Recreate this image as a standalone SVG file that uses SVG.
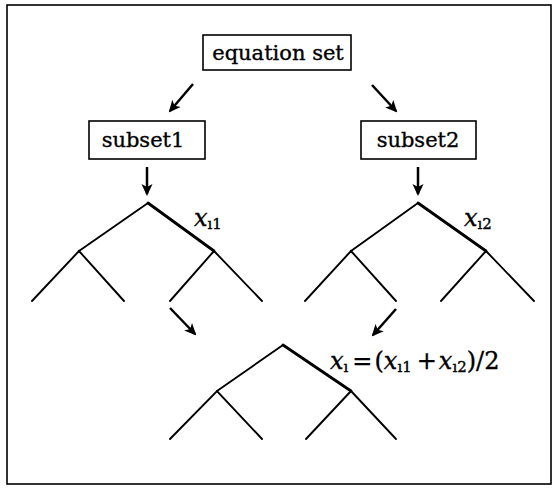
<svg xmlns="http://www.w3.org/2000/svg" width="555" height="489" viewBox="0 0 555 489">
<defs>
<marker id="ah" markerWidth="12" markerHeight="12" refX="10" refY="6" orient="auto" markerUnits="userSpaceOnUse" viewBox="0 0 12 12">
<path d="M0,0.5 L12,6 L0,11.5 L3,6 Z" fill="#000"/>
</marker>
</defs>
<style>
.box{fill:#fff;stroke:#000;stroke-width:1.6}
.lbl{font-family:'DejaVu Serif',serif;font-size:21px;fill:#000;stroke:#000;stroke-width:0.35}
.math{font-family:'DejaVu Serif',serif;font-size:24px;fill:#000;stroke:#000;stroke-width:0.35}
.it{font-style:italic}
.sub{font-size:15px}
.tree{fill:none;stroke:#000;stroke-width:1.9;stroke-linecap:round}
.bold{stroke-width:2.8}
.arr{stroke:#000;stroke-width:2.5;fill:none;marker-end:url(#ah)}
</style>
<rect x="0" y="0" width="555" height="489" fill="#fff"/>
<rect x="7" y="5" width="544" height="479" fill="none" stroke="#000" stroke-width="1.6"/>

<g id="equation-set">
<rect class="box" x="203" y="35" width="148" height="35"/>
<text class="lbl" x="278" y="60" text-anchor="middle">equation set</text>
</g>
<g id="subset1">
<rect class="box" x="89" y="121" width="116" height="38"/>
<text class="lbl" x="143" y="147" text-anchor="middle">subset1</text>
</g>
<g id="subset2">
<rect class="box" x="361" y="121" width="115" height="38"/>
<text class="lbl" x="418" y="147" text-anchor="middle">subset2</text>
</g>

<g id="tree1">
<polyline class="tree" points="79,251 148,203"/>
<polyline class="tree bold" points="148,203 214,251"/>
<polyline class="tree" points="32,301 79,251 124,301"/>
<polyline class="tree" points="170,301 214,251 262,301"/>
<text class="math" x="194" y="226"><tspan class="it">x</tspan><tspan class="sub" dy="3">ı1</tspan></text>
</g>
<g id="tree2">
<polyline class="tree" points="351,251 418,203"/>
<polyline class="tree bold" points="418,203 486,251"/>
<polyline class="tree" points="305,301 351,251 396,301"/>
<polyline class="tree" points="441,301 486,251 534,301"/>
<text class="math" x="464" y="226"><tspan class="it">x</tspan><tspan class="sub" dy="3">ı2</tspan></text>
</g>
<g id="tree3">
<polyline class="tree" points="217,391 283,345"/>
<polyline class="tree bold" points="283,345 351,391"/>
<polyline class="tree" points="170,439 217,391 262,439"/>
<polyline class="tree" points="306,439 351,391 396,439"/>
<text class="math" x="330" y="369"><tspan class="it">x</tspan><tspan class="sub" dy="3">ı</tspan><tspan dy="-3" dx="4">=</tspan><tspan dx="2">(</tspan><tspan class="it">x</tspan><tspan class="sub" dy="3">ı1</tspan><tspan dy="-3" dx="5">+</tspan><tspan class="it" dx="2">x</tspan><tspan class="sub" dy="3">ı2</tspan><tspan dy="-3">)/2</tspan></text>
</g>

<g id="connectors">
<line class="arr" x1="193" y1="84" x2="170" y2="111"/>
<line class="arr" x1="372" y1="85" x2="396" y2="111"/>
<line class="arr" x1="147" y1="167" x2="147" y2="194"/>
<line class="arr" x1="418" y1="167" x2="418" y2="194"/>
<line class="arr" x1="170" y1="308" x2="195" y2="334"/>
<line class="arr" x1="396" y1="309" x2="373" y2="335"/>
</g>
</svg>
